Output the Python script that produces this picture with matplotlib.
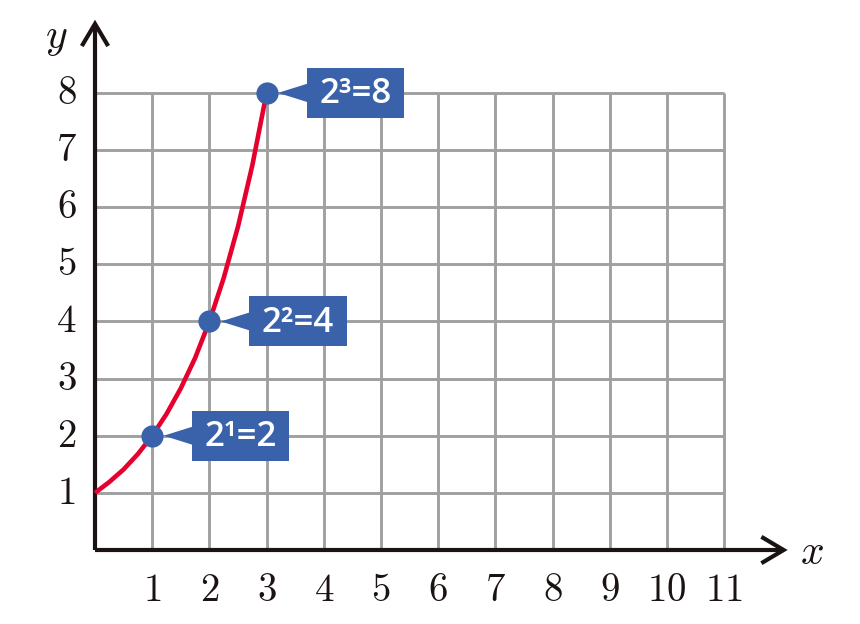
import matplotlib.pyplot as plt
from matplotlib.patches import Rectangle, Polygon, FancyArrowPatch

plt.rcParams['mathtext.fontset'] = 'cm'

# curve y = 2^x
curve_x = [0, 0.25, 0.5, 0.75, 1, 1.25, 1.5, 1.75, 2, 2.25, 2.5, 2.75, 3]
curve_y = [1, 1.19, 1.41, 1.68, 2, 2.38, 2.83, 3.36, 4, 4.76, 5.66, 6.73, 8]

pts_x = [1, 2, 3]
pts_y = [2, 4, 8]
pts_text = ['2¹=2', '2²=4', '2³=8']

x_ticks = list(range(1, 12))
y_ticks = list(range(1, 9))

blue = '#3a62ab'
red = '#e5002d'
grid_c = '#a0a0a0'
ink = '#1a1311'

fig = plt.figure(figsize=(8.6, 6.24), dpi=100)
ax = fig.add_axes([0, 0, 1, 1])
unit_x = 57.2
unit_y = 57.14
ax.set_xlim(-95 / unit_x, (860 - 95) / unit_x)
ax.set_ylim(-(624 - 550) / unit_y, 550 / unit_y)
ax.axis('off')

# grid
for xv in x_ticks:
    ax.plot([xv, xv], [0, max(y_ticks)], color=grid_c, lw=2.1, zorder=1, solid_capstyle='butt')
for yv in y_ticks:
    ax.plot([0, max(x_ticks)], [yv, yv], color=grid_c, lw=2.1, zorder=1, solid_capstyle='butt')

# axes with arrows
for start, end in [((0, 0), (12.11, 0)), ((0, 0), (0, 9.28))]:
    ax.add_patch(FancyArrowPatch(start, end, arrowstyle='->,head_length=1.6,head_width=0.95',
                                 mutation_scale=10, lw=3, color=ink, zorder=3,
                                 shrinkA=0, shrinkB=0, capstyle='butt', joinstyle='miter'))

# tick labels
for xv in x_ticks:
    ax.text(xv, -0.70, '$%d$' % xv, ha='center', va='center', fontsize=28, color=ink)
for yv in y_ticks:
    ax.text(-0.5, yv, '$%d$' % yv, ha='center', va='center', fontsize=28, color=ink)
ax.text(12.53, -0.03, '$x$', ha='center', va='center', fontsize=30, color=ink)
ax.text(-0.68, 8.98, '$y$', ha='center', va='center', fontsize=30, color=ink)

# curve
ax.plot(curve_x, curve_y, color=red, lw=3.3, zorder=4, solid_capstyle='butt')

# points + callouts
bw, bh = 1.70, 0.875
for px, py, lab in zip(pts_x, pts_y, pts_text):
    ax.add_patch(Polygon([(px + 0.2, py), (px + 0.71, py + 0.16), (px + 0.71, py - 0.16)],
                         closed=True, color=blue, lw=0, zorder=5))
    ax.add_patch(Rectangle((px + 0.70, py - bh / 2), bw, bh, color=blue, lw=0, zorder=5))
    ax.text(px + 0.70 + bw / 2, py - 0.02, lab, ha='center', va='center', fontsize=25,
            color='white', family='Open Sans', weight='semibold', zorder=6)
ax.plot(pts_x, pts_y, 'o', color=blue, ms=16, mec='none', zorder=6)

fig.savefig('out.png', dpi=100)
